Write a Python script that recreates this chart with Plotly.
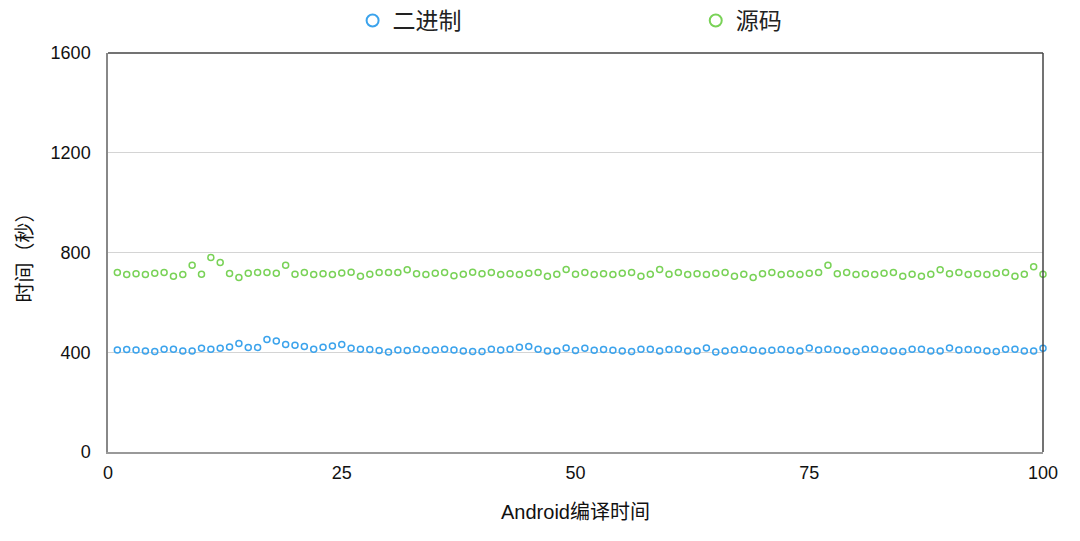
import plotly.graph_objects as go

runs = list(range(1, 101))

binary_time = [
    409, 411, 409, 405, 403, 412, 412, 405, 405, 416,
    412, 416, 421, 435, 419, 419, 451, 445, 431, 428,
    423, 412, 420, 425, 431, 416, 412, 411, 407, 401,
    409, 407, 412, 407, 409, 412, 409, 405, 403, 403,
    412, 409, 412, 420, 423, 412, 405, 405, 417, 407,
    416, 408, 411, 408, 405, 403, 412, 412, 405, 411,
    412, 405, 405, 417, 401, 405, 409, 412, 408, 405,
    408, 411, 408, 405, 417, 409, 412, 409, 405, 403,
    412, 412, 405, 405, 403, 412, 412, 405, 405, 417,
    409, 411, 409, 405, 403, 412, 412, 405, 405, 416,
]

source_time = [
    720, 712, 715, 712, 717, 720, 705, 712, 749, 713,
    780, 760, 716, 700, 717, 720, 720, 717, 749, 713,
    720, 712, 715, 712, 718, 721, 705, 713, 720, 720,
    720, 731, 715, 712, 717, 720, 707, 713, 721, 715,
    720, 712, 715, 712, 717, 720, 705, 713, 732, 713,
    720, 712, 715, 712, 717, 720, 705, 713, 732, 713,
    720, 712, 715, 712, 717, 720, 705, 713, 700, 715,
    720, 712, 715, 712, 717, 720, 749, 715, 720, 712,
    715, 712, 717, 720, 705, 713, 705, 713, 731, 715,
    720, 712, 715, 712, 717, 720, 705, 713, 743, 713,
]

font_family = "Liberation Sans, Arial, Noto Sans CJK SC"

fig = go.Figure()

fig.add_trace(go.Scatter(
    x=runs, y=binary_time, name="二进制", mode="markers", cliponaxis=False,
    marker=dict(symbol="circle-open", size=6, color="#3ba3ec", line=dict(width=1.5)),
    legend="legend",
))
fig.add_trace(go.Scatter(
    x=runs, y=source_time, name="源码", mode="markers", cliponaxis=False,
    marker=dict(symbol="circle-open", size=6, color="#79d257", line=dict(width=1.5)),
    legend="legend2",
))

# top and right frame lines
fig.add_shape(type="line", xref="paper", yref="paper", x0=0, x1=1, y0=1, y1=1,
              line=dict(color="#444444", width=1.5))
fig.add_shape(type="line", xref="paper", yref="paper", x0=1, x1=1, y0=0, y1=1,
              line=dict(color="#444444", width=1.5))

leg_common = dict(
    orientation="h", yref="paper", y=1.0815, yanchor="middle", xanchor="left",
    font=dict(size=23, color="#222222"), itemsizing="constant",
    bgcolor="rgba(0,0,0,0)",
)

# page body adds an 8px offset, so margins are shifted by 8
fig.update_layout(
    width=1080, height=541,
    margin=dict(l=100, r=45, t=45, b=97, autoexpand=False),
    paper_bgcolor="white", plot_bgcolor="white",
    font=dict(family=font_family, color="#111111", size=17),
    showlegend=True,
    legend=dict(x=0.2616, **leg_common),
    legend2=dict(x=0.6286, **leg_common),
    xaxis=dict(
        range=[0, 100], tickvals=[0, 25, 50, 75, 100], automargin=False,
        showgrid=False, zeroline=False,
        showline=True, linecolor="#999999", linewidth=1.5,
        ticks="", tickfont=dict(size=18), ticklabelstandoff=4,
        title=dict(text="Android编译时间", font=dict(size=20), standoff=23),
    ),
    yaxis=dict(
        range=[0, 1600], tickvals=[0, 400, 800, 1200, 1600], automargin=False,
        showgrid=True, gridcolor="#d4d4d4", gridwidth=1, zeroline=False,
        showline=True, linecolor="#888888", linewidth=1.5,
        ticks="", tickfont=dict(size=18), ticklabelstandoff=12,
        title=dict(text="时间（秒）", font=dict(size=20), standoff=13),
    ),
)

fig.write_html("out.html")
